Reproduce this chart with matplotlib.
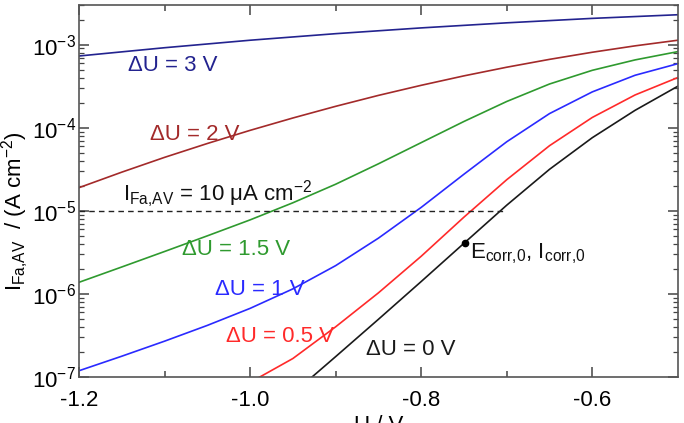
import matplotlib
matplotlib.use("Agg")
import matplotlib.pyplot as plt
from matplotlib.ticker import FixedLocator, LogLocator, NullFormatter

plt.rcParams['font.family'] = ['Liberation Sans', 'DejaVu Sans']
plt.rcParams['mathtext.fontset'] = 'custom'
plt.rcParams['mathtext.rm'] = 'Liberation Sans'
plt.rcParams['mathtext.it'] = 'Liberation Sans'

# ---- data ----
u_3v = [-1.2, -1.1, -1.0, -0.9, -0.8, -0.7, -0.6, -0.5]
i_3v = [7.3e-4, 9.18e-4, 1.13e-3, 1.355e-3, 1.59e-3, 1.83e-3, 2.07e-3, 2.29e-3]

u_2v = [-1.2, -1.15, -1.1, -1.05, -1.0, -0.95, -0.9, -0.85, -0.8, -0.75, -0.7, -0.65, -0.6, -0.55, -0.5]
i_2v = [1.9e-5, 2.92e-5, 4.4e-5, 6.46e-5, 9.3e-5, 1.31e-4, 1.81e-4, 2.45e-4, 3.24e-4,
        4.21e-4, 5.35e-4, 6.65e-4, 8.1e-4, 9.67e-4, 1.13e-3]

u_15v = [-1.2, -1.15, -1.1, -1.05, -1.0, -0.95, -0.9, -0.85, -0.8, -0.75, -0.7, -0.65, -0.6, -0.55, -0.5]
i_15v = [1.38e-6, 2.11e-6, 3.24e-6, 5.0e-6, 7.78e-6, 1.25e-5, 2.09e-5, 3.68e-5, 6.62e-5,
         1.19e-4, 2.07e-4, 3.36e-4, 4.91e-4, 6.55e-4, 8.24e-4]

u_1v = [-1.2, -1.15, -1.1, -1.05, -1.0, -0.95, -0.9, -0.85, -0.8, -0.75, -0.7, -0.65, -0.6, -0.55, -0.5]
i_1v = [1.19e-7, 1.78e-7, 2.70e-7, 4.18e-7, 6.70e-7, 1.15e-6, 2.19e-6, 4.69e-6, 1.10e-5,
        2.76e-5, 6.78e-5, 1.48e-4, 2.70e-4, 4.28e-4, 5.90e-4]

u_05v = [-0.995, -0.95, -0.9, -0.85, -0.8, -0.75, -0.7, -0.65, -0.6, -0.55, -0.5]
i_05v = [9.2e-8, 1.67e-7, 4.02e-7, 1.03e-6, 2.84e-6, 8.4e-6, 2.37e-5, 6.08e-5, 1.33e-4, 2.48e-4, 4.02e-4]

u_0v = [-0.935, -0.9, -0.85, -0.8, -0.75, -0.7, -0.65, -0.6, -0.55, -0.5]
i_0v = [8.6e-8, 1.76e-7, 4.95e-7, 1.41e-6, 4.07e-6, 1.17e-5, 3.16e-5, 7.59e-5, 1.62e-4, 3.16e-4]

threshold_u = [-1.2, -0.703]
threshold_i = [1e-5, 1e-5]

ecorr_u = [-0.749]
ecorr_i = [4.15e-6]

x_ticks = [-1.2, -1.0, -0.8, -0.6]
x_ticklabels = ["-1.2", "-1.0", "-0.8", "-0.6"]
x_minor = [-1.1, -0.9, -0.7]
y_ticks = [1e-7, 1e-6, 1e-5, 1e-4, 1e-3]
y_ticklabels = [r"10$^{\mathregular{-7}}$", r"10$^{\mathregular{-6}}$", r"10$^{\mathregular{-5}}$",
                r"10$^{\mathregular{-4}}$", r"10$^{\mathregular{-3}}$"]

# ---- figure ----
fig = plt.figure(figsize=(6.84, 4.23), dpi=100)
ax = fig.add_axes([0.1155, 0.1087, 0.8755, 0.8795])

lw = 1.2
ax.plot(u_3v, i_3v, color='#23238f', lw=lw)
ax.plot(u_2v, i_2v, color='#a32a2a', lw=lw)
ax.plot(u_15v, i_15v, color='#2f9a2f', lw=lw)
ax.plot(u_1v, i_1v, color='#2a2aff', lw=lw)
ax.plot(u_05v, i_05v, color='#ff2a2a', lw=lw)
ax.plot(u_0v, i_0v, color='#1a1a1a', lw=lw)
ax.plot(threshold_u, threshold_i, color='#222222', lw=1.0, ls=(0, (4, 3)))
ax.plot(ecorr_u, ecorr_i, 'o', color='black', ms=4.5)

ax.set_yscale('log')
ax.set_xlim(-1.2, -0.5)
ax.set_ylim(1e-7, 3e-3)

ax.set_xticks(x_ticks)
ax.set_xticklabels(x_ticklabels)
ax.xaxis.set_minor_locator(FixedLocator(x_minor))
ax.set_yticks(y_ticks)
ax.set_yticklabels(y_ticklabels)
ax.yaxis.set_minor_locator(LogLocator(base=10, subs=range(2, 10), numticks=20))
ax.yaxis.set_minor_formatter(NullFormatter())

ax.tick_params(which='both', direction='in', top=True, right=True, colors='#444444',
               labelcolor='black', labelsize=16)
ax.tick_params(axis='x', which='major', length=7, width=1.1, pad=9)
ax.tick_params(axis='x', which='minor', length=4, width=1.1)
ax.tick_params(axis='y', which='major', length=7, width=1.1, pad=2)
ax.tick_params(axis='y', which='minor', length=3.5, width=0.9)
for s in ax.spines.values():
    s.set_color('#555555')
    s.set_linewidth(1.2)

ax.set_xlabel("U / V", fontsize=16, labelpad=3)
ax.set_ylabel(r"I$_{\mathregular{Fa{,}AV}}$  / (A cm$^{\mathregular{-2}}$)", fontsize=16, labelpad=2)
ax.yaxis.set_label_coords(-0.08, 0.445)

fs = 16
ax.text(-1.143, 5.57e-4, "ΔU = 3 V", color='#23238f', fontsize=fs, va='center', ha='left')
ax.text(-1.117, 8.4e-5, "ΔU = 2 V", color='#a32a2a', fontsize=fs, va='center', ha='left')
ax.text(-1.149, 1.31e-5, r"I$_{\mathregular{Fa{,}AV}}$ = 10 μA cm$^{\mathregular{-2}}$", color='#111111',
        fontsize=fs, va='baseline', ha='left')
ax.text(-1.08, 3.43e-6, "ΔU = 1.5 V", color='#2f9a2f', fontsize=fs, va='center', ha='left')
ax.text(-1.0416, 1.12e-6, "ΔU = 1 V", color='#2a2aff', fontsize=fs, va='center', ha='left')
ax.text(-1.0276, 3.04e-7, "ΔU = 0.5 V", color='#ff2a2a', fontsize=fs, va='center', ha='left')
ax.text(-0.8645, 2.12e-7, "ΔU = 0 V", color='#1a1a1a', fontsize=fs, va='center', ha='left')
ax.text(-0.7434, 2.67e-6, r"E$_{\mathregular{corr{,}0}}$, I$_{\mathregular{corr{,}0}}$", color='#111111',
        fontsize=fs, va='baseline', ha='left')

fig.savefig("out.png", dpi=100)
